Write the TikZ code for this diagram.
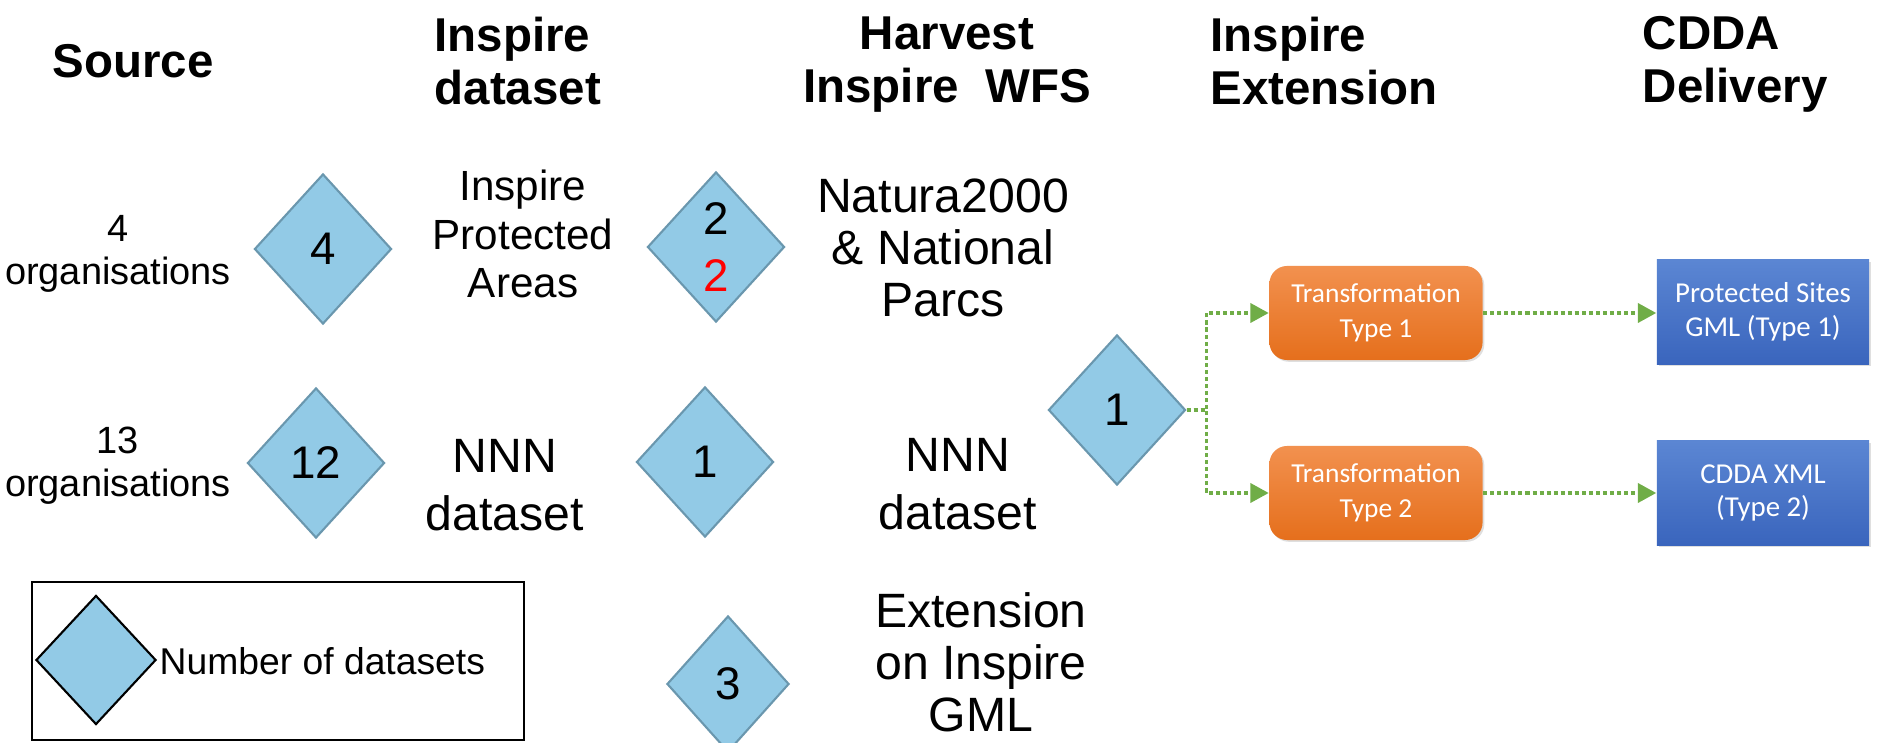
\documentclass[tikz,border=0pt]{standalone}
\usepackage{fontspec}
\setmainfont{Liberation Sans}
\newfontfamily\calibri{Carlito}
\usepackage{tikz}
\usetikzlibrary{shapes.geometric,arrows.meta,shadows}

\definecolor{dsfill}{HTML}{92CAE6}
\definecolor{dsline}{HTML}{6A97AE}
\definecolor{flowgreen}{HTML}{70AD47}
\definecolor{ortop}{HTML}{F2914F}
\definecolor{orbot}{HTML}{E56F1C}
\definecolor{bltop}{HTML}{5B86D3}
\definecolor{blbot}{HTML}{3A65BD}

\begin{document}
\begin{tikzpicture}[x=0.01cm,y=-0.01cm,>={Triangle[length=5.2pt,width=5.4pt]}]
  \tikzstyle{head}=[font=\fontsize{13.5}{15.1}\selectfont\bfseries,inner sep=0]
  \tikzstyle{body}=[font=\fontsize{13.7}{16.4}\selectfont,align=center,inner sep=0]
  \tikzstyle{orgs}=[font=\fontsize{10.8}{12.2}\selectfont,align=center,inner sep=0]
  \tikzstyle{dset}=[diamond,draw=dsline,line width=0.6pt,fill=dsfill,minimum width=1.37cm,minimum height=1.5cm,inner sep=0,align=center,font=\fontsize{13}{16.2}\selectfont]
  \tikzstyle{trans}=[rectangle,rounded corners=5pt,top color=ortop,bottom color=orbot,minimum width=2.13cm,minimum height=0.94cm,text=white,align=center,font=\calibri\fontsize{7.8}{10}\selectfont,drop shadow={opacity=0.25,shadow xshift=0.5pt,shadow yshift=-0.5pt}]
  \tikzstyle{deliv}=[rectangle,top color=bltop,bottom color=blbot,minimum width=2.12cm,minimum height=1.04cm,text=white,align=center,font=\calibri\fontsize{8.2}{9.6}\selectfont,drop shadow={opacity=0.25,shadow xshift=0.5pt,shadow yshift=-0.5pt}]
  \tikzstyle{flow}=[->,flowgreen,line width=1pt,dash pattern=on 1.15pt off 0.85pt]

  \useasboundingbox (0,0) rectangle (1879,743);

  % column headings
  \node [head] (hsrc) at (133,61) {Source};
  \node [head,align=left,anchor=north west] (hds) at (434,16) {Inspire\\dataset};
  \node [head,align=center,anchor=north] (hwfs) at (947,16) {Harvest\\Inspire\ \ WFS};
  \node [head,align=left,anchor=north west] (hext) at (1210,16) {Inspire\\Extension};
  \node [head,align=left,anchor=north west] (hcdda) at (1642,16) {CDDA\\Delivery};

  % sources
  \node [orgs] (org4) at (118,254) {4\\organisations};
  \node [orgs] (org13) at (118,466) {13\\organisations};

  % dataset counts
  \node [dset] (d4) at (323,249) {4};
  \node [dset] (d12) at (316,463) {12};
  \node [dset] (d22) at (716,247) {2\\{\color{red}2}};
  \node [dset] (d1a) at (705,462) {1};
  \node [dset,minimum width=1.22cm,minimum height=1.36cm] (d3) at (728,684) {3};
  \node [dset] (d1b) at (1117,410) {1};

  % dataset names
  \node [body,font=\fontsize{12}{13.8}\selectfont] (ipa) at (523,234) {Inspire\\Protected\\Areas};
  \node [body] (nnn1) at (505,485) {NNN\\dataset};
  \node [body,font=\fontsize{13.7}{14.7}\selectfont] (natura) at (943,248) {Natura2000\\\& National\\Parcs};
  \node [body] (nnn2) at (958,484) {NNN\\dataset};
  \node [body,font=\fontsize{13.7}{14.8}\selectfont] (extgml) at (981,662) {Extension\\on Inspire\\GML};

  % transformation and delivery
  \node [trans] (tr1) at (1376,313) {Transformation\\Type 1};
  \node [trans] (tr2) at (1376,493) {Transformation\\Type 2};
  \node [deliv] (psgml) at (1763,312) {Protected Sites\\GML (Type 1)};
  \node [deliv] (cddaxml) at (1763,493) {CDDA XML\\(Type 2)};

  \draw [flow] (d1b.east) -- ++(20,0) |- (tr1.west);
  \draw [flow] (d1b.east) -- ++(20,0) |- (tr2.west);
  \draw [flow] (tr1.east) -- (tr1.east -| psgml.west);
  \draw [flow] (tr2.east) -- (tr2.east -| cddaxml.west);

  % legend
  \node [draw,line width=0.6pt,minimum width=4.92cm,minimum height=1.58cm,inner sep=0] (legend) at (278,661) {};
  \node [dset,draw=black,minimum width=1.2cm,minimum height=1.29cm] (legd) at (96,660) {};
  \node [font=\fontsize{10.6}{12}\selectfont,anchor=west,inner sep=0] (legt) at (159,661) {Number of datasets};
\end{tikzpicture}
\end{document}
